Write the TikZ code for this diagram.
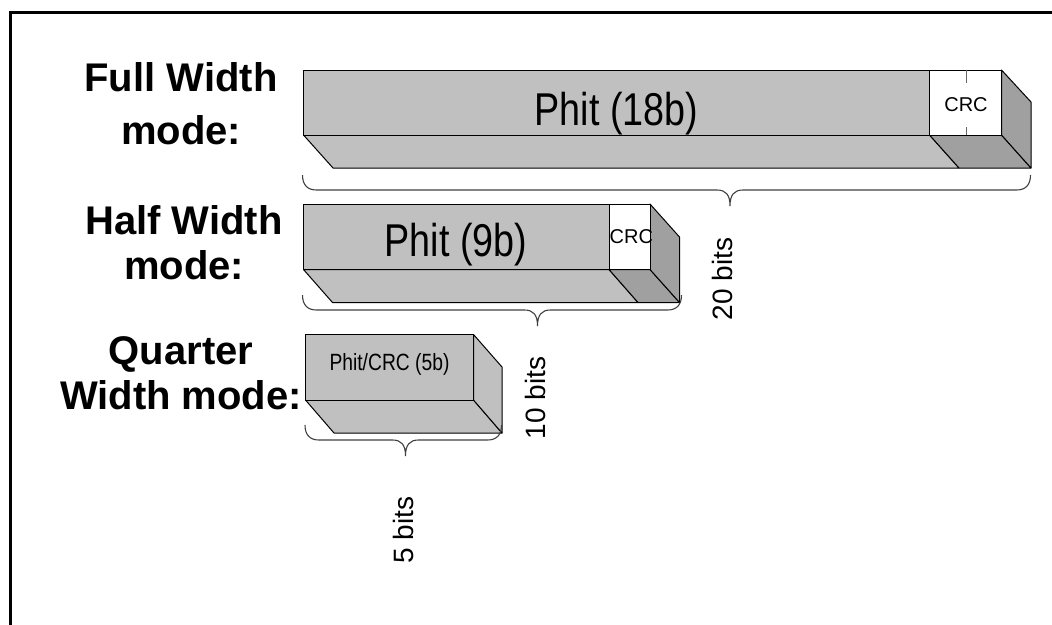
\documentclass[tikz,border=0pt]{standalone}
\usepackage{fontspec}
\setmainfont{Liberation Sans}
\newfontfamily\narrowsans[FakeStretch=0.82]{Liberation Sans}
\usetikzlibrary{positioning}

\definecolor{phitgray}{HTML}{C0C0C0}
\definecolor{sidegray}{HTML}{A0A0A0}

% brace under a box: left end, right end, tip, top of the ends
\newcommand{\widthbrace}[4]{%
  \draw[bracestyle] (#1,#4) .. controls (#1,#4+10) and (#1+5,#4+15) .. (#1+14,#4+15)
    -- (#3-13,#4+15) .. controls (#3-4,#4+15) and (#3,#4+20) .. (#3,#4+31)
    .. controls (#3,#4+20) and (#3+4,#4+15) .. (#3+13,#4+15)
    -- (#2-14,#4+15) .. controls (#2-5,#4+15) and (#2,#4+10) .. (#2,#4);}

\begin{document}
\begin{tikzpicture}[x=1pt, y=-1pt,
    phitface/.style={fill=phitgray, draw=black, line width=1pt, line join=round},
    sideface/.style={fill=sidegray, draw=black, line width=1pt, line join=round},
    crcface/.style={fill=white, draw=black, line width=1pt},
    bracestyle/.style={draw=black!75, line width=1.1pt},
    modelabel/.style={align=center, font=\bfseries\fontsize{40}{45}\selectfont},
    phitlabel/.style={font=\narrowsans\fontsize{46}{50}\selectfont, anchor=base},
    crclabel/.style={font=\fontsize{20}{24}\selectfont, inner sep=0pt},
    bitslabel/.style={rotate=90, font=\fontsize{28}{32}\selectfont}]
  \useasboundingbox (0,0) rectangle (1052,624);
  \draw[line width=3pt] (1060,12.5) -- (10.5,12.5) -- (10.5,630);

  % full width
  \filldraw[phitface] (303.5,135) -- (929.5,135) -- (959,168) -- (333,168) -- cycle;
  \filldraw[sideface] (929.5,135) -- (1001.5,135) -- (1031,168) -- (959,168) -- cycle;
  \filldraw[sideface] (1001.5,70) -- (1031,102) -- (1031,168) -- (1001.5,135) -- cycle;
  \filldraw[phitface] (303.5,70) rectangle (929.5,135);
  \filldraw[crcface] (929.5,70) rectangle (1001.5,135);
  \draw[black!60, line width=1pt] (966,70) -- (966,83) (966,127) -- (966,135);
  \node[phitlabel] (fullphit) at (616.5,125) {Phit (18b)};
  \node[crclabel, anchor=base] (fullcrc) at (966,111.5) {CRC};
  \node[modelabel, font=\bfseries\fontsize{40}{53}\selectfont] (fulllabel) at (181,104) {Full Width\\mode:};
  \widthbrace{302.5}{1030.5}{730}{175}
  \node[bitslabel] (fullbits) at (722.5,279) {20 bits};

  % half width
  \filldraw[phitface] (303.5,269.5) -- (609,269.5) -- (638,302.5) -- (332.5,302.5) -- cycle;
  \filldraw[sideface] (609,269.5) -- (650,269.5) -- (679.5,302.5) -- (638,302.5) -- cycle;
  \filldraw[sideface] (650,204) -- (679.5,237) -- (679.5,302.5) -- (650,269.5) -- cycle;
  \filldraw[phitface] (303.5,204) rectangle (609,269.5);
  \filldraw[crcface] (609,204) rectangle (650,269.5);
  \node[phitlabel] (halfphit) at (456,256.7) {Phit (9b)};
  \node[crclabel, anchor=base west] (halfcrc) at (609.5,243.3) {CRC};
  \node[modelabel] (halflabel) at (184,242.5) {Half Width\\mode:};
  \widthbrace{302.5}{681.5}{537.5}{295}
  \node[bitslabel] (halfbits) at (535,398) {10 bits};

  % quarter width
  \filldraw[phitface] (305.5,400) -- (473.5,400) -- (502,433) -- (334,433) -- cycle;
  \filldraw[phitface] (473.5,334.5) -- (502,367) -- (502,433) -- (473.5,400) -- cycle;
  \filldraw[phitface] (305.5,334.5) rectangle (473.5,400);
  \node[phitlabel, font=\narrowsans\fontsize{23.5}{28}\selectfont] (quarterphit) at (389.5,370) {Phit/CRC (5b)};
  \node[modelabel] (quarterlabel) at (181,373.5) {Quarter\\Width mode:};
  \widthbrace{305}{501.5}{405.5}{425}
  \node[bitslabel] (quarterbits) at (403,530) {5 bits};
\end{tikzpicture}
\end{document}
